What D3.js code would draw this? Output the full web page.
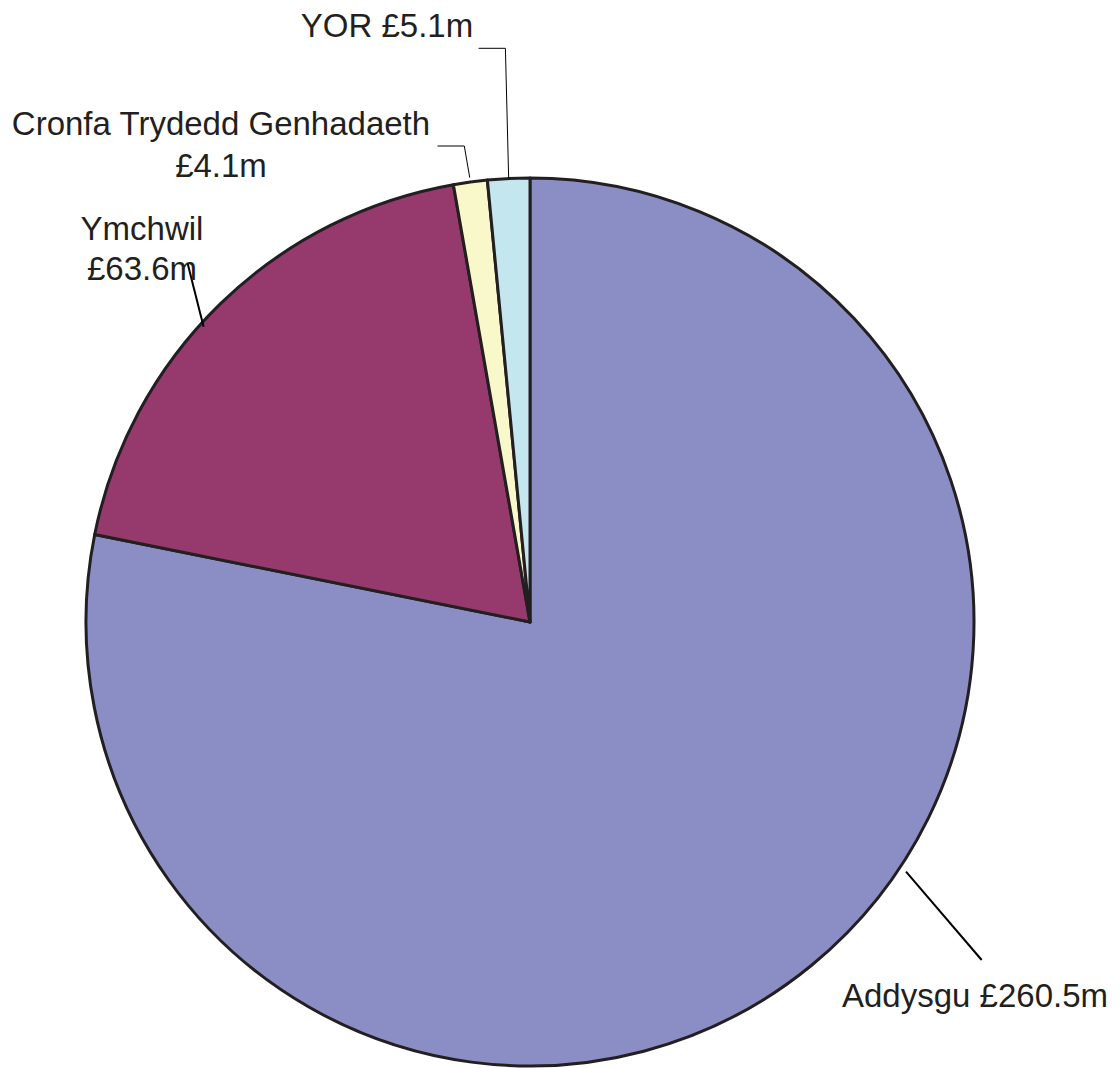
<!DOCTYPE html>
<html><head><meta charset="utf-8">
<script src="https://cdn.jsdelivr.net/npm/d3@7/dist/d3.min.js"></script>
<style>body{margin:0;background:#fff}svg{display:block}</style>
</head><body>
<svg id="c" width="1119" height="1068"></svg>
<script>
const categories = ["Addysgu", "Ymchwil", "Cronfa Trydedd Genhadaeth", "YOR"];
const values = [260.5, 63.6, 4.1, 5.1];
const labels = [["Addysgu £260.5m"], ["Ymchwil", "£63.6m"], ["Cronfa Trydedd Genhadaeth", "£4.1m"], ["YOR £5.1m"]];
const colors = ["#8B8EC5", "#96396D", "#F9F8CB", "#C3E6EF"];

const cx = 530, cy = 622, r = 444;
const svg = d3.select("#c");
const g = svg.append("g").attr("transform", `translate(${cx},${cy})`);
const pie = d3.pie().sort(null).startAngle(0).endAngle(2 * Math.PI);
const arcs = pie(values);
const arc = d3.arc().innerRadius(0).outerRadius(r);
g.selectAll("path.slice").data(arcs).enter().append("path")
  .attr("class", "slice")
  .attr("d", arc)
  .attr("fill", (d, i) => colors[i])
  .attr("stroke", "#231F20").attr("stroke-width", 3).attr("stroke-linejoin", "round");

// label layout (positions relative to page)
const labelPos = [
  {x: 975, y: 1007, lines: [0]},
  {x: 142, y: 240, lines: [0, 40]},
  {x: 221, y: 135, lines: [0, 42]},
  {x: 387, y: 37, lines: [0]}
];
// leader lines: from point near arc (computed via mid-angle) to label
const leaders = [
  {k: 1.02, pts: [[981.7, 960]], w: 2},
  {k: 1.005, pts: [[187.5, 263]], w: 2},
  {k: 1.01, pts: [[464.3, 146], [437.5, 146]], w: 1},
  {k: 1.0, pts: [[505.4, 48.3], [478.6, 48.3]], w: 1}
];
const midAngles = [null, null, null, null];
arcs.forEach((d, i) => {
  const a = (d.startAngle + d.endAngle) / 2;
  let px, py;
  if (i === 0) { px = 906; py = 871.7; }
  else if (i === 1) { px = 203.6; py = 326.7; }
  else {
    px = cx + Math.sin(a) * r * leaders[i].k;
    py = cy - Math.cos(a) * r * leaders[i].k;
  }
  const pts = [[px, py]].concat(leaders[i].pts);
  svg.append("path")
    .attr("d", d3.line()(pts))
    .attr("fill", "none")
    .attr("stroke", "#000")
    .attr("stroke-width", leaders[i].w);
});

labels.forEach((lines, i) => {
  const t = svg.append("text")
    .attr("x", labelPos[i].x).attr("y", labelPos[i].y)
    .attr("text-anchor", "middle")
    .attr("font-family", "Liberation Sans, Arial, sans-serif")
    .attr("font-size", 33)
    .attr("fill", "#231F20");
  lines.forEach((s, j) => {
    t.append("tspan").attr("x", labelPos[i].x)
      .attr("y", labelPos[i].y + labelPos[i].lines[j]).text(s);
  });
});
</script>
</body></html>
